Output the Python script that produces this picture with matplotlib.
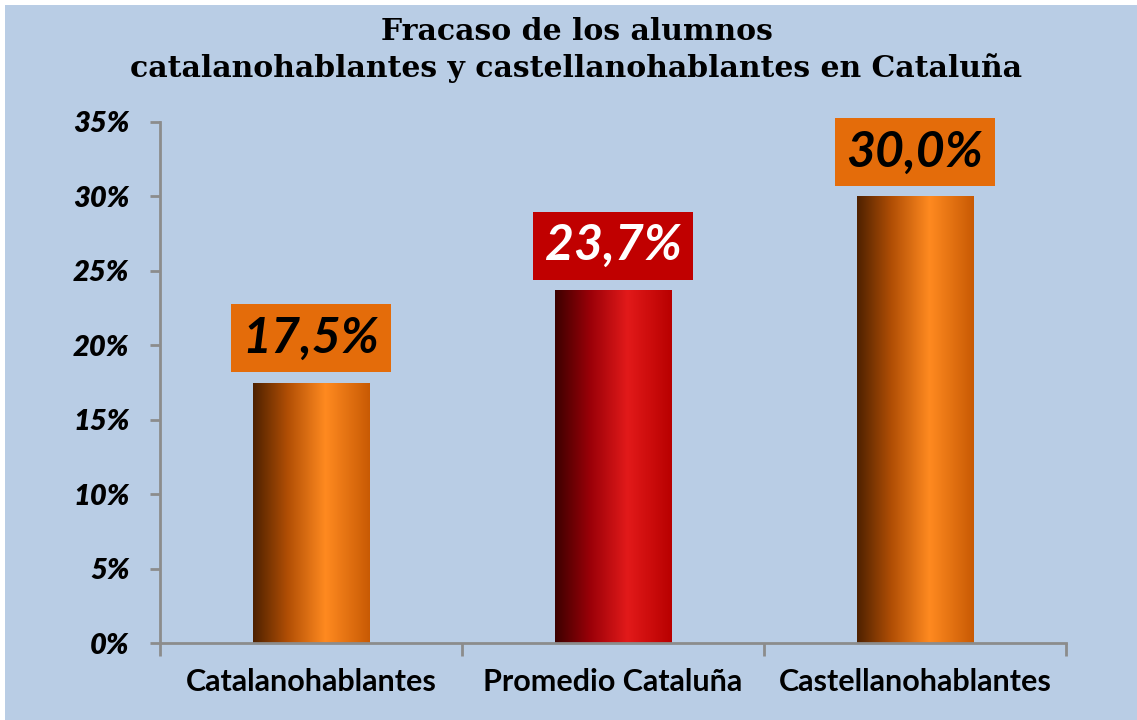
import numpy as np
import matplotlib
matplotlib.use("Agg")
import matplotlib.pyplot as plt
from matplotlib.colors import LinearSegmentedColormap
from matplotlib.patches import Rectangle
from matplotlib.ticker import FixedLocator, FuncFormatter

categories = ["Catalanohablantes", "Promedio Cataluña", "Castellanohablantes"]
values = [17.5, 23.7, 30.0]
value_labels = ["17,5%", "23,7%", "30,0%"]
yticks = [0, 5, 10, 15, 20, 25, 30, 35]

BG = "#b9cde5"
AXIS = "#8c8c8c"
ORANGE = LinearSegmentedColormap.from_list(
    "orange", [(0, "#4e2100"), (0.3, "#b24f05"), (0.62, "#ff8a20"), (1, "#c85a04")])
RED = LinearSegmentedColormap.from_list(
    "red", [(0, "#3c0000"), (0.3, "#9a0008"), (0.62, "#e21a1a"), (1, "#b80000")])
STYLE = [  # bar colormap, label box colour, label text colour
    (ORANGE, "#e46c0a", "black"),
    (RED, "#c00000", "white"),
    (ORANGE, "#e46c0a", "black"),
]

W, H = 1137, 720
fig = plt.figure(figsize=(W / 100, H / 100), dpi=100, facecolor="white")
fig.patches.append(Rectangle((5 / W, 0), 1, 1 - 5 / H, transform=fig.transFigure,
                             facecolor=BG, edgecolor="none", zorder=-10))

ax = fig.add_axes([160 / W, 1 - 643 / H, (1066 - 160) / W, (643 - 122) / H])
ax.set_facecolor("none")
ax.set_xlim(-0.5, 2.5)
ax.set_ylim(0, 35)

grad = np.linspace(0, 1, 256).reshape(1, -1)
bw = 0.385
for i, (v, lab, (cmap, boxc, txtc)) in enumerate(zip(values, value_labels, STYLE)):
    bar = ax.bar(i, v, width=bw, color="none", edgecolor="none")[0]
    im = ax.imshow(grad, cmap=cmap, aspect="auto", interpolation="bilinear",
                   extent=(i - bw / 2, i + bw / 2, 0, v), zorder=2)
    im.set_clip_path(bar)
    ax.annotate(lab, (i, v), xytext=(0, 32), textcoords="offset points",
                ha="center", va="center", fontsize=36, fontweight="bold",
                fontstyle="italic", family="Lato", color=txtc,
                bbox=dict(boxstyle="square,pad=0.23", facecolor=boxc, edgecolor="none"))

ax.set_aspect("auto")
for s in ["top", "right"]:
    ax.spines[s].set_visible(False)
for s in ["left", "bottom"]:
    ax.spines[s].set_color(AXIS)
    ax.spines[s].set_linewidth(2)

ax.set_yticks(yticks)
ax.yaxis.set_major_formatter(FuncFormatter(lambda y, _: f"{y:.0f}%"))
ax.tick_params(axis="y", length=7, width=2, color=AXIS, pad=15)
for t in ax.get_yticklabels():
    t.set_fontsize(21)
    t.set_fontweight("heavy")
    t.set_fontstyle("italic")
    t.set_family("Lato")

ax.set_xticks(range(len(categories)))
ax.set_xticklabels(categories, fontsize=22, fontweight="bold", family="Lato")
ax.tick_params(axis="x", which="major", length=0, pad=18)
ax.xaxis.set_minor_locator(FixedLocator([-0.5, 0.5, 1.5, 2.5]))
ax.tick_params(axis="x", which="minor", length=9, width=2, color=AXIS)

fig.text(0.507, 1 - 50 / H, "Fracaso de los alumnos\ncatalanohablantes y castellanohablantes en Cataluña",
         ha="center", va="center", fontsize=21.5, fontweight="bold", family="DejaVu Serif",
         linespacing=1.3)

fig.savefig("out.png", dpi=100, facecolor="white")
